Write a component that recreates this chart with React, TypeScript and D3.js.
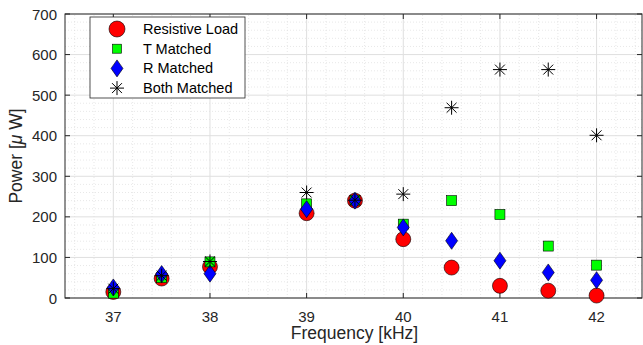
import * as d3 from 'd3'

const FREQS = [37, 37.5, 38, 39, 39.5, 40, 40.5, 41, 41.5, 42]
const RESISTIVE = [15, 48, 77, 209, 240, 145, 75, 30, 18, 6]
const T_MATCHED = [12, 50, 89, 232, 241, 182, 240, 206, 128, 81]
const R_MATCHED = [26, 59, 60, 219, 240, 174, 141, 92, 63, 44]
const BOTH_MATCHED = [23, 55, 90, 260, 241, 256, 469, 563, 563, 401]
const X_TICKS = [37, 38, 39, 40, 41, 42]
const Y_TICKS = [0, 100, 200, 300, 400, 500, 600, 700]
const LEGEND = ['Resistive Load', 'T Matched', 'R Matched', 'Both Matched']

const W = 643
const H = 345
const M = { left: 65, right: 1, top: 14, bottom: 47 }
const FONT = '"Liberation Sans", Arial, sans-serif'
const AXIS = '#262626'

function Marker({ kind, x, y, legend }: { kind: number; x: number; y: number; legend?: boolean }) {
  if (kind === 0) return <circle cx={x} cy={y} r={legend ? 8 : 7.5} fill="#ff0000" stroke="#000" strokeWidth={0.6} />
  if (kind === 1) {
    const s = legend ? 9 : 10
    return <rect x={x - s / 2} y={y - s / 2} width={s} height={s} fill="#00ff00" stroke="#000" strokeWidth={0.6} />
  }
  if (kind === 2) {
    const w = 6, h = 8.5
    return <path d={`M${x},${y - h}L${x + w},${y}L${x},${y + h}L${x - w},${y}Z`} fill="#0000ff" stroke="#000" strokeWidth={0.6} />
  }
  const r = 7
  const d = [0, 45, 90, 135].map(a => {
    const rad = (a * Math.PI) / 180
    const dx = Math.cos(rad) * r, dy = Math.sin(rad) * r
    return `M${x - dx},${y - dy}L${x + dx},${y + dy}`
  }).join('')
  return <path d={d} stroke="#000" strokeWidth={1} fill="none" />
}

export default function App() {
  const x = d3.scaleLinear().domain([36.5, 42.47]).range([M.left, W - M.right])
  const y = d3.scaleLinear().domain([0, 700]).range([H - M.bottom, M.top])
  const [x0, x1] = x.range()
  const [y0, y1] = y.range()

  const minorX = d3.range(36.6, 42.47, 0.2).filter(v => !X_TICKS.some(t => Math.abs(t - v) < 1e-6))
  const minorY = d3.range(20, 700, 20).filter(v => v % 100 !== 0)

  const series = [RESISTIVE, T_MATCHED, R_MATCHED, BOTH_MATCHED]

  return (
    <svg width={W} height={H} style={{ position: 'absolute', left: 0, top: 0, fontFamily: FONT }}>
      <rect width={W} height={H} fill="#fff" />
      {minorX.map(v => (
        <line key={'mx' + v} x1={x(v)} x2={x(v)} y1={y0} y2={y1} stroke="#d8d8d8" strokeWidth={0.6} strokeDasharray="1,2" />
      ))}
      {minorY.map(v => (
        <line key={'my' + v} x1={x0} x2={x1} y1={y(v)} y2={y(v)} stroke="#d8d8d8" strokeWidth={0.6} strokeDasharray="1,2" />
      ))}
      {X_TICKS.map(v => (
        <line key={'gx' + v} x1={x(v)} x2={x(v)} y1={y0} y2={y1} stroke="#dfdfdf" strokeWidth={1} />
      ))}
      {Y_TICKS.map(v => (
        <line key={'gy' + v} x1={x0} x2={x1} y1={y(v)} y2={y(v)} stroke="#dfdfdf" strokeWidth={1} />
      ))}

      <rect x={x0} y={y1} width={x1 - x0} height={y0 - y1} fill="none" stroke={AXIS} strokeWidth={1} />
      {X_TICKS.map(v => (
        <g key={'tx' + v}>
          <line x1={x(v)} x2={x(v)} y1={y0} y2={y0 - 5} stroke={AXIS} />
          <line x1={x(v)} x2={x(v)} y1={y1} y2={y1 + 5} stroke={AXIS} />
          <text x={x(v)} y={y0 + 23.5} textAnchor="middle" fontSize={15} fill={AXIS}>{v}</text>
        </g>
      ))}
      {Y_TICKS.map(v => (
        <g key={'ty' + v}>
          <line x1={x0} x2={x0 + 5} y1={y(v)} y2={y(v)} stroke={AXIS} />
          <line x1={x1} x2={x1 - 5} y1={y(v)} y2={y(v)} stroke={AXIS} />
          <text x={x0 - 8} y={y(v) + 5.5} textAnchor="end" fontSize={15} fill={AXIS}>{v}</text>
        </g>
      ))}

      <text x={(x0 + x1) / 2 + 1} y={H - 6} textAnchor="middle" fontSize={17.5} fill={AXIS}>Frequency [kHz]</text>
      <text transform={`translate(22,${(y0 + y1) / 2}) rotate(-90)`} textAnchor="middle" fontSize={17.5} fill={AXIS}>
        Power [<tspan fontStyle="italic">μ</tspan> W]
      </text>

      {series.map((vals, k) => (
        <g key={'s' + k}>
          {vals.map((v, i) => <Marker key={i} kind={k} x={x(FREQS[i])} y={y(v)} />)}
        </g>
      ))}

      <g>
        <rect x={90} y={17} width={155} height={81} fill="#fff" stroke={AXIS} strokeWidth={0.8} />
        {LEGEND.map((name, i) => (
          <g key={name}>
            <Marker kind={i} x={117} y={29 + i * 19.7} legend />
            <text x={143} y={29 + i * 19.7 + 5} fontSize={14.5} fill="#000">{name}</text>
          </g>
        ))}
      </g>
    </svg>
  )
}
